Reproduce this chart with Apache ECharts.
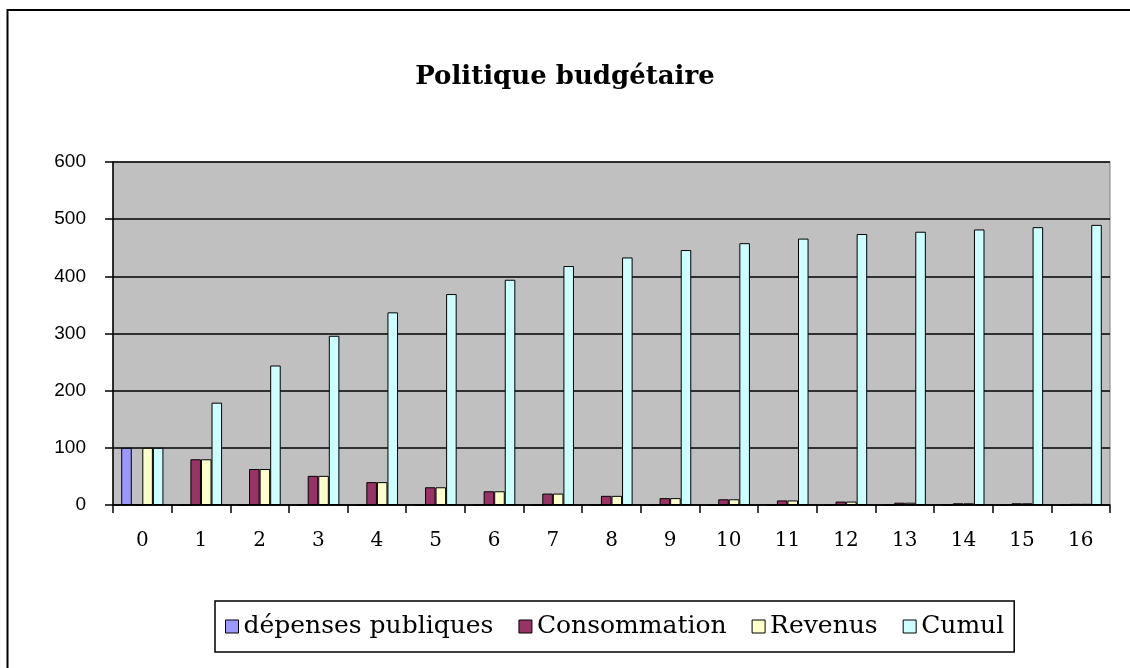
<!DOCTYPE html>
<html>
<head>
<meta charset="utf-8">
<title>Politique budgétaire</title>
<script src="https://cdn.jsdelivr.net/npm/echarts@6/dist/echarts.min.js"></script>
<style>
  html, body { margin: 0; padding: 0; background: #fff; }
  #chart { width: 1130px; height: 668px; }
</style>
</head>
<body>
<div id="chart"></div>
<script>
// données
const periodes = ['0', '1', '2', '3', '4', '5', '6', '7', '8', '9', '10', '11', '12', '13', '14', '15', '16']
const depensesPubliques = [100, 0, 0, 0, 0, 0, 0, 0, 0, 0, 0, 0, 0, 0, 0, 0, 0]
const consommation = [0, 80, 63, 51, 40, 31, 24, 20, 16, 12, 10, 8, 6, 4, 3, 3, 2]
const revenus = [100, 80, 63, 51, 40, 31, 24, 20, 16, 12, 10, 8, 6, 4, 3, 3, 2]
const cumul = [100, 179, 244, 296, 337, 369, 394, 418, 433, 446, 458, 466, 474, 478, 482, 486, 490]
const yTicks = [0, 100, 200, 300, 400, 500, 600]

const serif = 'DejaVu Serif'

const chart = echarts.init(document.getElementById('chart'))

function barSerie(name, color, data) {
  return {
    name: name,
    type: 'bar',
    data: data,
    barGap: '0%',
    barCategoryGap: '28%',
    itemStyle: {
      color: color,
      borderColor: '#000',
      borderWidth: 1
    },
    emphasis: { disabled: true }
  }
}

const option = {
  animation: false,
  backgroundColor: '#fff',
  graphic: [
    {
      // cadre extérieur
      type: 'rect',
      shape: { x: 7.5, y: 10, width: 1200, height: 700 },
      style: { fill: 'none', stroke: '#000', lineWidth: 2 },
      silent: true
    }
  ],
  title: {
    text: 'Politique budgétaire',
    left: 'center',
    top: 59,
    textStyle: {
      fontFamily: serif,
      fontWeight: 'bold',
      fontSize: 26,
      color: '#000'
    }
  },
  legend: {
    left: 215,
    top: 601,
    padding: [13, 10, 13, 10],
    itemGap: 25,
    itemWidth: 13,
    itemHeight: 13,
    icon: 'rect',
    borderColor: '#000',
    borderWidth: 1.5,
    itemStyle: { borderColor: '#000', borderWidth: 1 },
    textStyle: {
      fontFamily: serif,
      fontSize: 25,
      color: '#000',
      padding: [0, 0, 0, 0]
    },
    data: ['dépenses publiques', 'Consommation', 'Revenus', 'Cumul']
  },
  grid: {
    left: 113,
    right: 20,
    top: 162,
    bottom: 163,
    show: true,
    backgroundColor: '#c0c0c0',
    borderColor: '#808080',
    borderWidth: 1
  },
  xAxis: {
    type: 'category',
    data: periodes,
    boundaryGap: true,
    axisLine: { show: true, lineStyle: { color: '#000', width: 1.5 } },
    axisTick: { show: true, length: 8, lineStyle: { color: '#000', width: 1.5 } },
    axisLabel: {
      fontFamily: serif,
      fontSize: 20,
      color: '#000',
      margin: 26
    },
    splitLine: { show: false }
  },
  yAxis: {
    type: 'value',
    min: yTicks[0],
    max: yTicks[yTicks.length - 1],
    interval: 100,
    axisLine: { show: true, lineStyle: { color: '#000', width: 1.5 } },
    axisTick: { show: true, length: 8, lineStyle: { color: '#000', width: 1.5 } },
    axisLabel: {
      fontFamily: 'Liberation Sans',
      fontSize: 19,
      color: '#000',
      margin: 27
    },
    splitLine: { show: true, lineStyle: { color: '#000', width: 1.5 } }
  },
  series: [
    barSerie('dépenses publiques', '#9999ff', depensesPubliques),
    barSerie('Consommation', '#993366', consommation),
    barSerie('Revenus', '#ffffcc', revenus),
    barSerie('Cumul', '#ccffff', cumul)
  ]
}

chart.setOption(option)
</script>
</body>
</html>
